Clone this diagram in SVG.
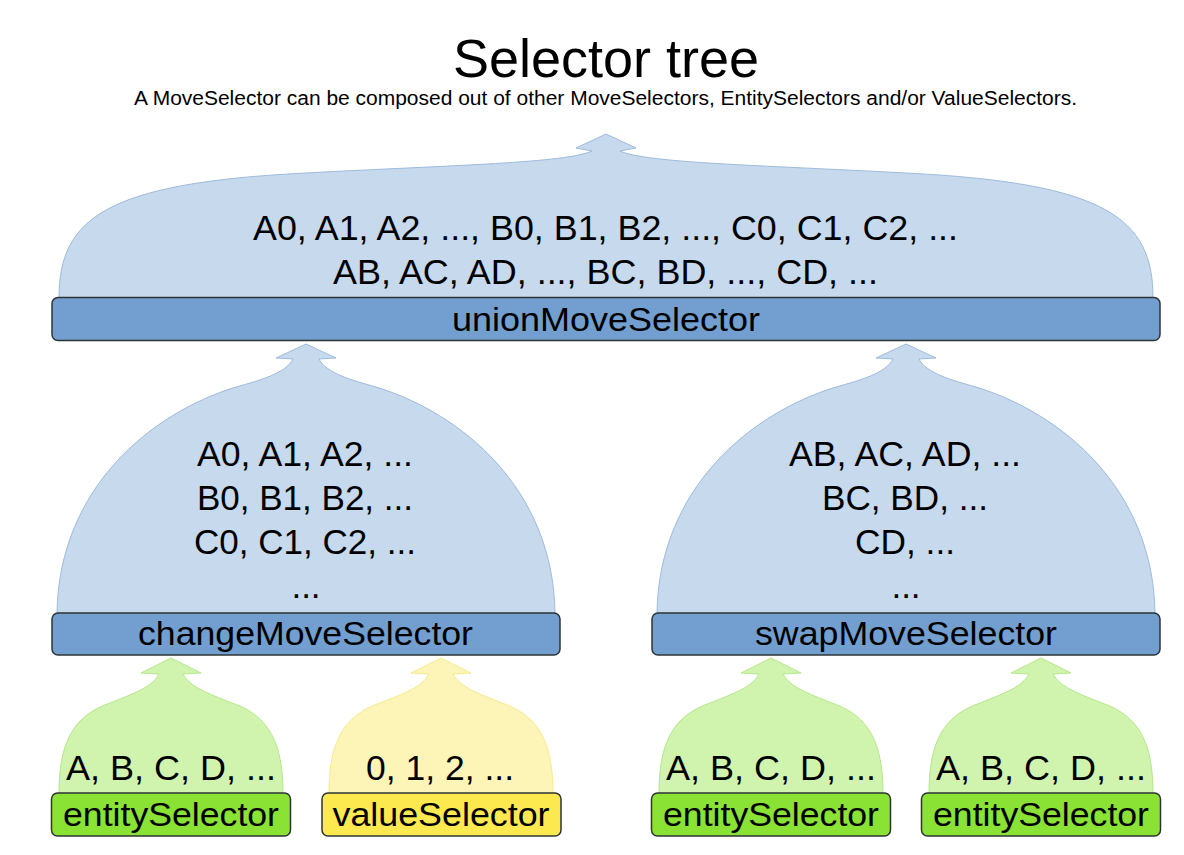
<svg xmlns="http://www.w3.org/2000/svg" xmlns:xlink="http://www.w3.org/1999/xlink" width="1184" height="855" viewBox="0 0 1184 855">
  <style>
    text { font-family: "Liberation Sans", Arial, sans-serif; fill: #000; text-anchor: middle; }
    .title { font-size: 54px; }
    .subtitle { font-size: 20px; }
    .lbl { font-size: 35px; }
    .bartxt { font-size: 34px; }
    .bar { stroke: #2e3436; stroke-width: 1.5; }
    .blue { fill: #729fcf; }
    .green { fill: #8ae234; }
    .yellow { fill: #fce94f; }
    .dBlue { fill: #c7d9ec; stroke: #9dbbdd; stroke-width: 1; }
    .dGreen { fill: #d0f3ae; stroke: #b5e88a; stroke-width: 1; }
    .dYellow { fill: #fdf5b8; stroke: #f7e98d; stroke-width: 1; }
  </style>
  <defs>
    <path id="domeTop" d="M -547 0 C -547 -80 -500 -115 -300 -125 C -150 -133 -40 -135 -14 -147 L -30 -150 L 0 -164 L 30 -150 L 14 -147 C 40 -135 150 -133 300 -125 C 500 -115 547 -80 547 0 Z"/>
    <path id="domeMid" d="M -249 0 C -247 -125 -155 -200 -70 -226 C -45 -233 -20 -240 -13 -254 L -30 -255 L 0 -269 L 30 -255 L 13 -254 C 20 -240 45 -233 70 -226 C 155 -200 247 -125 249 0 Z"/>
    <path id="domeSmall" d="M -112 0 C -112 -50 -99 -78 -61 -91 C -36 -101 -19 -107 -12 -120 L -30 -121 L 0 -136 L 30 -121 L 12 -120 C 19 -107 36 -101 61 -91 C 99 -78 112 -50 112 0 Z"/>
  </defs>

  <rect x="0" y="0" width="1184" height="855" fill="#ffffff"/>

  <g id="title">
    <text class="title" x="606" y="77">Selector tree</text>
    <text class="subtitle" x="605.5" y="105" textLength="943" lengthAdjust="spacingAndGlyphs">A MoveSelector can be composed out of other MoveSelectors, EntitySelectors and/or ValueSelectors.</text>
  </g>

  <g id="connectors">
    <use xlink:href="#domeTop" href="#domeTop" x="606" y="298" class="dBlue"/>
    <text class="lbl" x="605.5" y="240" textLength="705" lengthAdjust="spacingAndGlyphs">A0, A1, A2, ..., B0, B1, B2, ..., C0, C1, C2, ...</text>
    <text class="lbl" x="605.5" y="284" textLength="545" lengthAdjust="spacingAndGlyphs">AB, AC, AD, ..., BC, BD, ..., CD, ...</text>

    <use xlink:href="#domeMid" href="#domeMid" x="306" y="613" class="dBlue"/>
    <text class="lbl" x="305" y="466" textLength="216" lengthAdjust="spacingAndGlyphs">A0, A1, A2, ...</text>
    <text class="lbl" x="305" y="510" textLength="216" lengthAdjust="spacingAndGlyphs">B0, B1, B2, ...</text>
    <text class="lbl" x="305" y="554" textLength="222" lengthAdjust="spacingAndGlyphs">C0, C1, C2, ...</text>
    <text class="lbl" x="306" y="598">...</text>

    <use xlink:href="#domeMid" href="#domeMid" x="906" y="613" class="dBlue"/>
    <text class="lbl" x="905" y="466" textLength="232" lengthAdjust="spacingAndGlyphs">AB, AC, AD, ...</text>
    <text class="lbl" x="905" y="510" textLength="166" lengthAdjust="spacingAndGlyphs">BC, BD, ...</text>
    <text class="lbl" x="905" y="554" textLength="100" lengthAdjust="spacingAndGlyphs">CD, ...</text>
    <text class="lbl" x="906" y="598">...</text>

    <use xlink:href="#domeSmall" href="#domeSmall" x="171" y="794" class="dGreen"/>
    <text class="lbl" x="171" y="780" textLength="210" lengthAdjust="spacingAndGlyphs">A, B, C, D, ...</text>

    <use xlink:href="#domeSmall" href="#domeSmall" x="441" y="794" class="dYellow"/>
    <text class="lbl" x="440" y="780" textLength="148" lengthAdjust="spacingAndGlyphs">0, 1, 2, ...</text>

    <use xlink:href="#domeSmall" href="#domeSmall" x="771" y="794" class="dGreen"/>
    <text class="lbl" x="771" y="780" textLength="210" lengthAdjust="spacingAndGlyphs">A, B, C, D, ...</text>

    <use xlink:href="#domeSmall" href="#domeSmall" x="1041" y="794" class="dGreen"/>
    <text class="lbl" x="1041" y="780" textLength="210" lengthAdjust="spacingAndGlyphs">A, B, C, D, ...</text>
  </g>

  <g id="unionMoveSelector">
    <rect class="bar blue" x="52" y="297.5" width="1108" height="43" rx="6"/>
    <text class="bartxt" x="606" y="331" textLength="308" lengthAdjust="spacingAndGlyphs">unionMoveSelector</text>
  </g>

  <g id="changeMoveSelector">
    <rect class="bar blue" x="52" y="613" width="508" height="42" rx="6"/>
    <text class="bartxt" x="305.5" y="645" textLength="335" lengthAdjust="spacingAndGlyphs">changeMoveSelector</text>
  </g>

  <g id="swapMoveSelector">
    <rect class="bar blue" x="652" y="613" width="508" height="42" rx="6"/>
    <text class="bartxt" x="906" y="645" textLength="302" lengthAdjust="spacingAndGlyphs">swapMoveSelector</text>
  </g>

  <g id="entitySelector1">
    <rect class="bar green" x="51.5" y="793" width="239" height="43" rx="6"/>
    <text class="bartxt" x="171" y="826" textLength="216" lengthAdjust="spacingAndGlyphs">entitySelector</text>
  </g>

  <g id="valueSelector">
    <rect class="bar yellow" x="322" y="793" width="239" height="43" rx="6"/>
    <text class="bartxt" x="441" y="826" textLength="217" lengthAdjust="spacingAndGlyphs">valueSelector</text>
  </g>

  <g id="entitySelector2">
    <rect class="bar green" x="651.5" y="793" width="239" height="43" rx="6"/>
    <text class="bartxt" x="771" y="826" textLength="216" lengthAdjust="spacingAndGlyphs">entitySelector</text>
  </g>

  <g id="entitySelector3">
    <rect class="bar green" x="921.5" y="793" width="239" height="43" rx="6"/>
    <text class="bartxt" x="1041" y="826" textLength="216" lengthAdjust="spacingAndGlyphs">entitySelector</text>
  </g>
</svg>
